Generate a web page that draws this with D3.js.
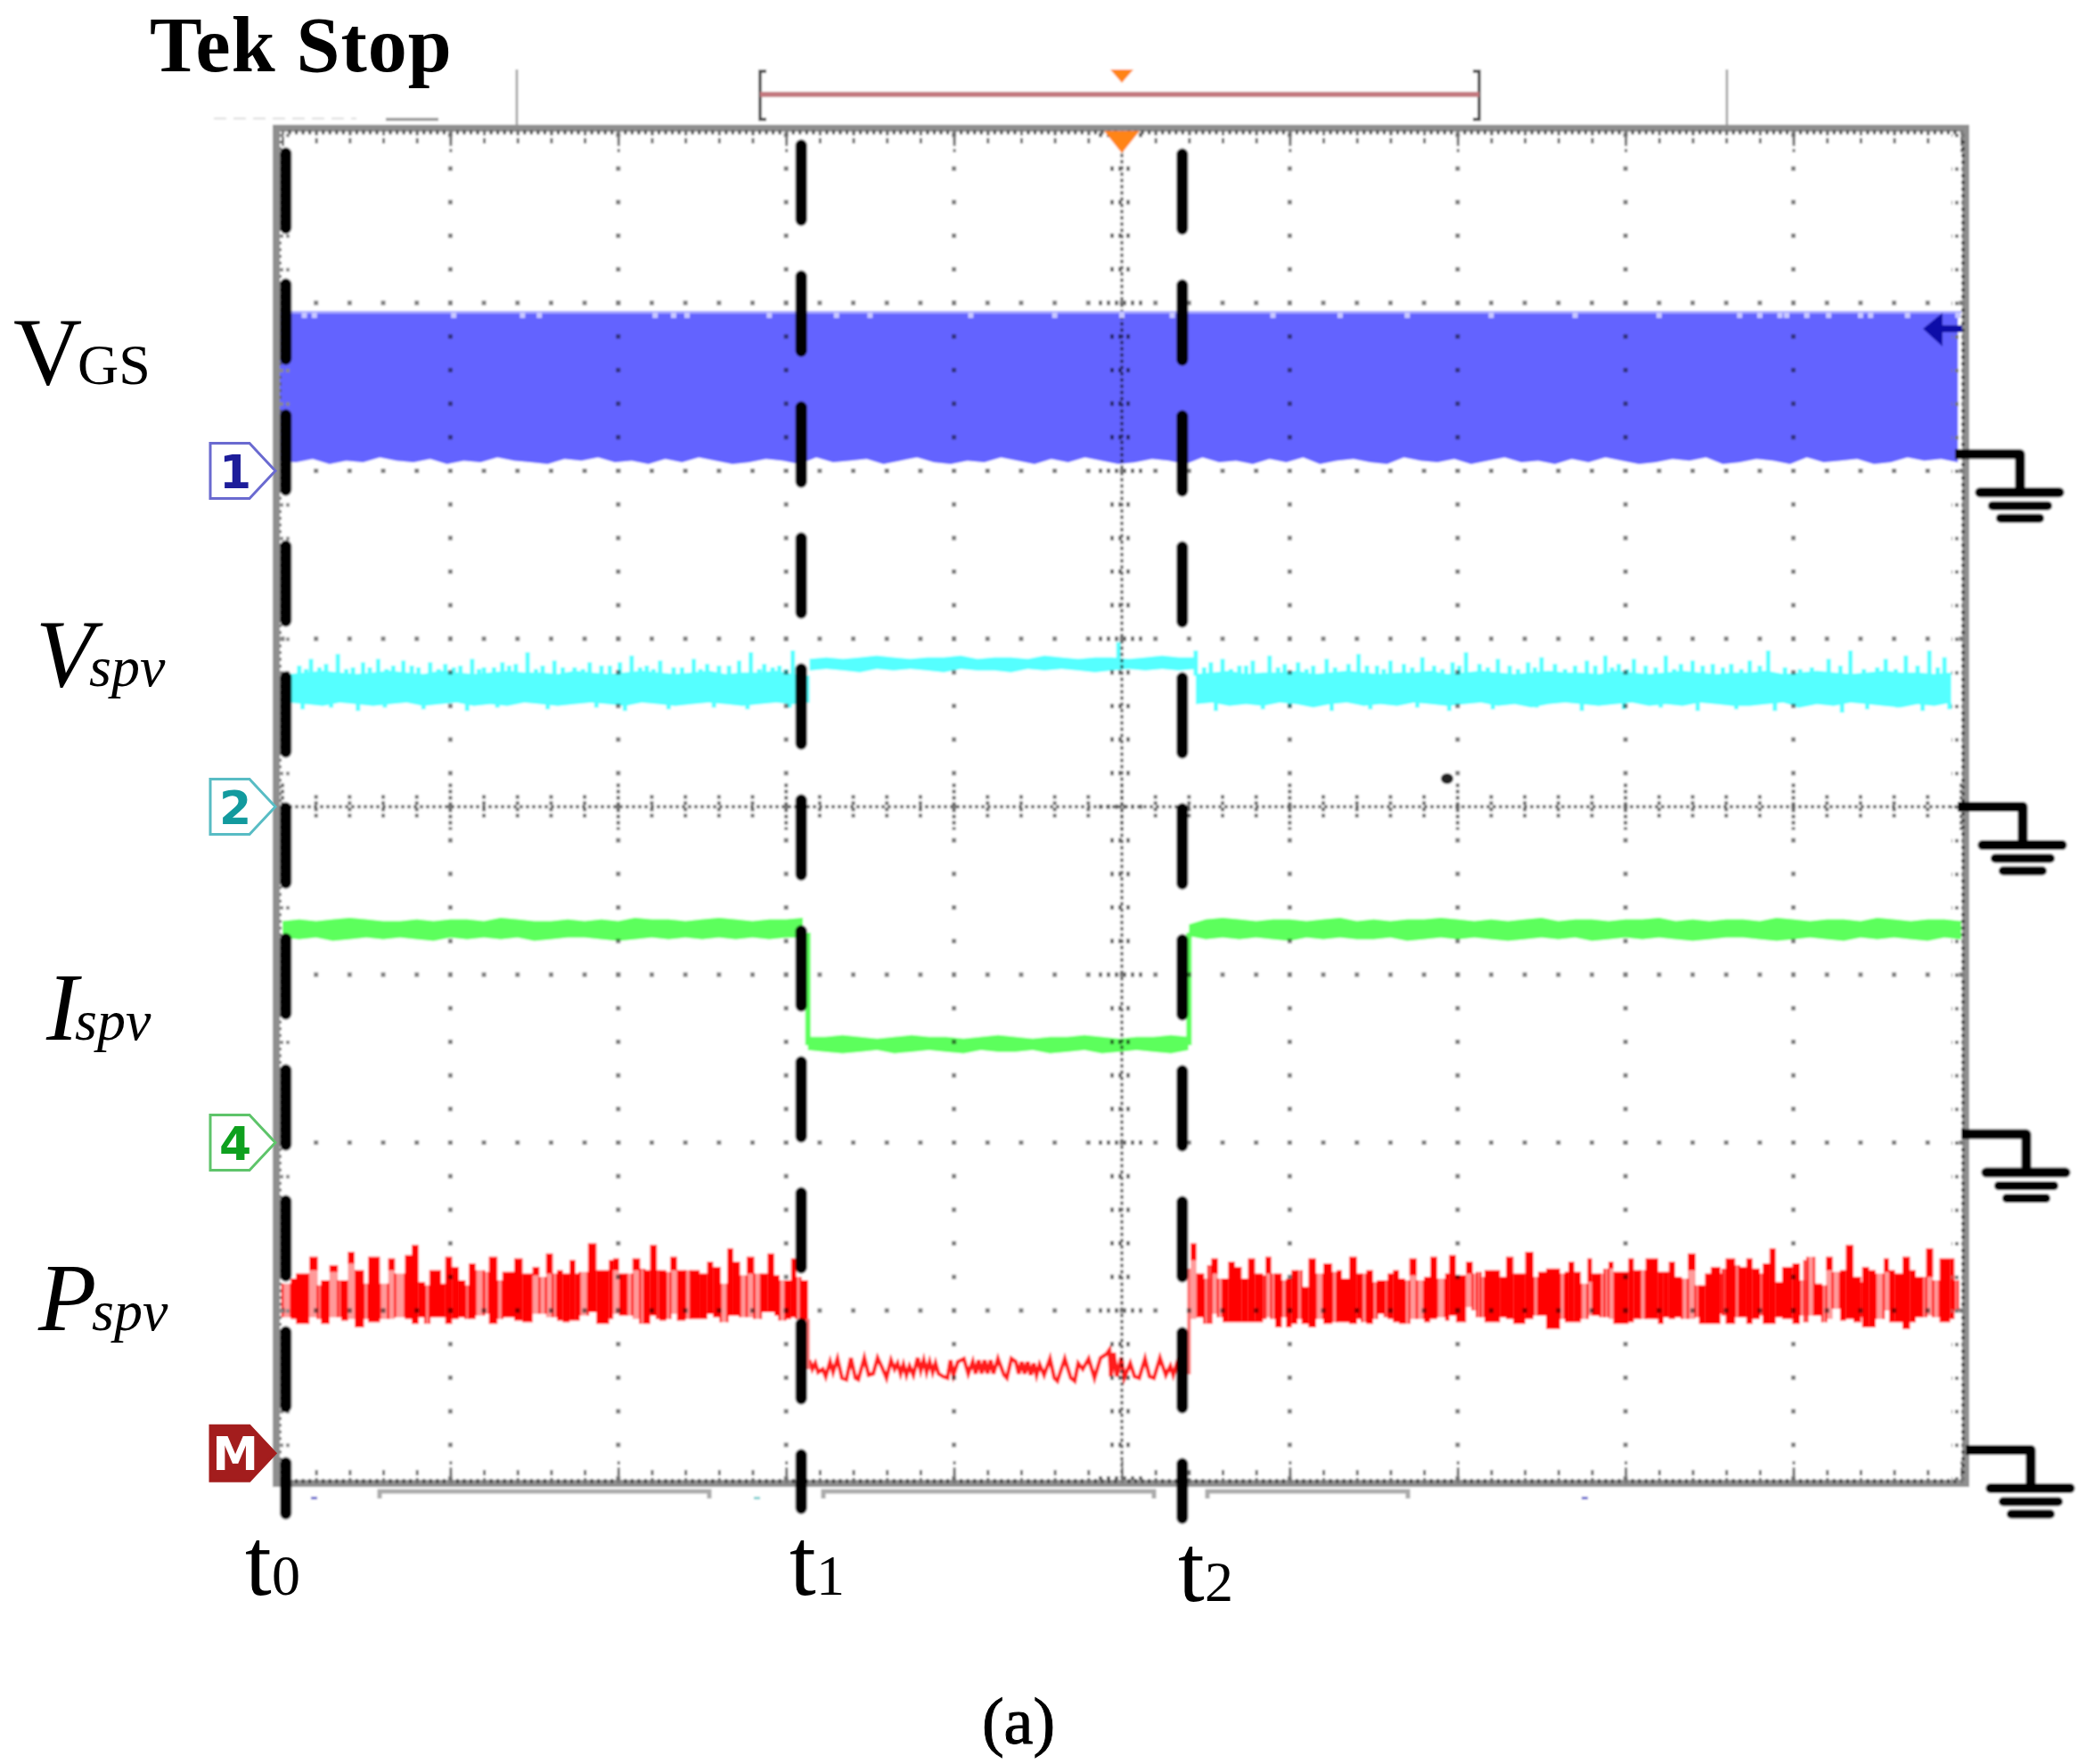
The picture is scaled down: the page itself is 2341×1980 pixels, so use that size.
<!DOCTYPE html>
<html>
<head>
<meta charset="utf-8">
<script src="https://cdnjs.cloudflare.com/ajax/libs/d3/7.8.5/d3.min.js"></script>
<style>
html, body { margin: 0; padding: 0; background: #fff; }
svg { display: block; }
text { font-family: "Liberation Serif", serif; fill: #000; }
</style>
</head>
<body>
<div id="chart"></div>
<script>
// all readings are in scope divisions: time 0..10, level 0..8 from the bottom graticule line

// VGS band
var vgsTop = 6.95;
var vgsBottom = [6.06,6.05,6.07,6.04,6.06,6.05,6.08,6.06,6.05,6.07,6.04,6.06,6.05,6.08,6.06,6.05,6.04,6.07,6.06,6.08,
    6.05,6.06,6.04,6.07,6.05,6.08,6.06,6.04,6.05,6.07,6.06,6.04,6.08,6.05,6.06,6.07,6.04,6.06,6.08,6.05,
    6.04,6.06,6.05,6.08,6.06,6.04,6.07,6.05,6.08,6.06,6.04,6.05,6.07,6.06,6.04,6.08,6.05,6.06,6.04,6.07,
    6.05,6.08,6.04,6.06,6.07,6.05,6.04,6.08,6.06,6.05,6.07,6.04,6.06,6.08,6.05,6.06,6.04,6.07,6.05,6.08,
    6.06,6.04,6.05,6.07,6.06,6.08,6.04,6.05,6.07,6.06,6.04,6.08,6.05,6.06,6.07,6.04,6.05,6.08,6.06,6.07,6.05];
var vgsNotches = [0.13,0.19,1.02,1.43,1.53,2.22,2.33,2.41,2.9,3.3,3.5,4.1,4.6,5.0,5.3,5.9,6.3,6.7,7.2,7.7,8.2,8.68,8.80,8.92,8.96,9.08,9.21,9.40,9.46,9.68,9.98];

// Vspv
var vTopLeft = [4.79,4.80,4.81,4.80,4.79,4.80,4.81,4.80,4.79,4.81,4.80,4.79,4.80,4.81,4.80,4.80,4.79,4.81,4.80,4.79,4.80,4.81,4.80,4.79,4.80,4.81,4.79,4.80,4.80,4.81,4.79,4.78];
var vBotLeft = [4.62,4.61,4.60,4.62,4.61,4.60,4.61,4.62,4.60,4.61,4.62,4.60,4.61,4.60,4.62,4.61,4.60,4.61,4.62,4.61,4.60,4.62,4.61,4.60,4.61,4.62,4.61,4.60,4.61,4.62,4.61,4.62];
var vTopMid = [4.88,4.89,4.88,4.89,4.90,4.89,4.88,4.89,4.89,4.90,4.88,4.89,4.89,4.88,4.90,4.89,4.88,4.89,4.89,4.88,4.89,4.90,4.89,4.89];
var vBotMid = [4.81,4.82,4.81,4.80,4.82,4.81,4.82,4.81,4.80,4.82,4.81,4.81,4.80,4.82,4.81,4.82,4.81,4.80,4.81,4.82,4.81,4.82,4.81,4.82];
var vTopRight = [4.79,4.80,4.81,4.79,4.80,4.80,4.81,4.79,4.80,4.81,4.80,4.79,4.80,4.80,4.81,4.79,4.80,4.81,4.80,4.79,4.80,4.81,4.80,4.80,4.79,4.81,4.80,4.79,4.80,4.81,4.80,4.79,4.80,4.80,4.81,4.79,4.80,4.81,4.80,4.79,4.80,4.81,4.80,4.80,4.79,4.80];
var vBotRight = [4.61,4.62,4.60,4.61,4.60,4.62,4.61,4.59,4.61,4.62,4.60,4.61,4.60,4.62,4.61,4.60,4.61,4.62,4.60,4.61,4.59,4.61,4.62,4.61,4.60,4.61,4.62,4.60,4.61,4.60,4.62,4.61,4.60,4.60,4.61,4.62,4.59,4.61,4.60,4.62,4.61,4.60,4.59,4.61,4.60,4.62];
var vSpikeT = [0.10,0.17,0.26,0.33,0.42,0.48,0.57,0.66,0.72,0.81,0.88,0.97,1.06,1.13,1.20,1.31,1.39,1.46,1.55,1.62,1.74,1.83,1.90,2.01,2.08,2.17,2.25,2.33,2.45,2.53,2.60,2.72,2.79,2.87,2.96,3.04,
    4.98,5.44,5.53,5.60,5.70,5.78,5.88,5.97,6.05,6.14,6.22,6.35,6.41,6.52,6.60,6.68,6.79,6.86,6.97,7.05,7.13,7.24,7.31,7.42,7.50,7.58,7.70,7.77,7.88,7.96,8.05,8.12,8.24,8.33,8.40,8.52,8.63,8.74,8.85,9.21,9.34,9.55,9.67,9.81,9.90,
    0.14,0.22,0.38,0.52,0.62,0.77,0.93,1.02,1.17,1.26,1.35,1.51,1.67,1.79,1.95,2.13,2.21,2.38,2.49,2.66,2.84,2.92,3.00,5.49,5.65,5.74,5.93,6.10,6.27,6.46,6.56,6.73,6.91,7.01,7.18,7.36,7.46,7.64,7.82,7.92,8.01,8.18,8.29,8.46,8.58,8.69,8.80,8.95,9.04,9.11,9.28,9.42,9.50,9.61,9.74,9.86];
var vSpikeV = [4.84,4.88,4.85,4.91,4.83,4.86,4.88,4.84,4.87,4.83,4.86,4.85,4.84,4.88,4.83,4.86,4.85,4.92,4.84,4.87,4.83,4.86,4.84,4.86,4.90,4.84,4.87,4.83,4.88,4.85,4.84,4.87,4.92,4.85,4.84,4.93,
    4.98,4.93,4.86,4.88,4.84,4.87,4.90,4.85,4.86,4.84,4.88,4.85,4.91,4.84,4.87,4.85,4.89,4.84,4.86,4.92,4.85,4.88,4.84,4.86,4.89,4.85,4.84,4.87,4.90,4.85,4.88,4.84,4.90,4.85,4.87,4.85,4.85,4.87,4.93,4.88,4.93,4.88,4.90,4.93,4.89,
    4.82,4.83,4.82,4.83,4.82,4.84,4.82,4.83,4.82,4.83,4.84,4.82,4.83,4.82,4.84,4.83,4.82,4.83,4.82,4.84,4.82,4.83,4.82,4.83,4.82,4.84,4.83,4.82,4.83,4.84,4.82,4.83,4.82,4.84,4.83,4.82,4.83,4.82,4.84,4.83,4.82,4.83,4.82,4.84,4.83,4.82,4.84,4.83,4.82,4.83,4.84,4.82,4.83,4.82,4.84,4.83];
var vDipT = [0.12,0.29,0.45,0.61,0.84,1.10,1.28,1.58,1.87,2.04,2.30,2.57,2.77,3.02,5.56,5.84,6.00,6.25,6.48,6.76,6.95,7.21,7.47,7.74,7.99,8.21,8.43,8.66,8.89,9.03,9.29,9.44,9.62,9.77,9.93];
var vDipV = [4.58,4.59,4.57,4.59,4.58,4.57,4.59,4.58,4.59,4.57,4.58,4.59,4.58,4.59,4.57,4.58,4.59,4.57,4.58,4.59,4.57,4.58,4.59,4.57,4.58,4.59,4.57,4.58,4.57,4.59,4.56,4.58,4.59,4.57,4.58];

// Ispv
var iTopLeft = [3.32,3.33,3.32,3.33,3.34,3.33,3.32,3.32,3.33,3.32,3.33,3.33,3.32,3.34,3.33,3.32,3.32,3.33,3.32,3.33,3.32,3.34,3.33,3.33,3.32,3.33,3.34,3.33,3.32,3.33,3.33,3.34];
var iBotLeft = [3.22,3.21,3.22,3.20,3.21,3.22,3.21,3.22,3.21,3.20,3.22,3.21,3.22,3.21,3.22,3.20,3.21,3.22,3.22,3.21,3.20,3.21,3.22,3.21,3.22,3.21,3.22,3.21,3.22,3.21,3.22,3.22];
var iTopMid = [2.63,2.63,2.64,2.63,2.62,2.63,2.64,2.63,2.63,2.62,2.63,2.64,2.63,2.62,2.63,2.63,2.64,2.63,2.62,2.63,2.63,2.64,2.63];
var iBotMid = [2.55,2.54,2.53,2.54,2.55,2.53,2.54,2.55,2.54,2.53,2.55,2.54,2.54,2.55,2.53,2.54,2.55,2.53,2.54,2.55,2.54,2.53,2.55];
var iTopRight = [3.30,3.33,3.34,3.33,3.32,3.33,3.33,3.32,3.33,3.34,3.32,3.33,3.32,3.33,3.33,3.34,3.33,3.32,3.33,3.32,3.33,3.34,3.32,3.33,3.33,3.32,3.33,3.33,3.34,3.32,3.33,3.32,3.33,3.33,3.32,3.34,3.33,3.32,3.33,3.33,3.32,3.34,3.33,3.32,3.33,3.33,3.32];
var iBotRight = [3.23,3.21,3.22,3.21,3.22,3.21,3.20,3.22,3.21,3.22,3.21,3.21,3.22,3.20,3.21,3.22,3.21,3.22,3.21,3.20,3.21,3.22,3.21,3.22,3.20,3.21,3.22,3.21,3.22,3.21,3.20,3.21,3.22,3.22,3.21,3.20,3.21,3.22,3.21,3.20,3.22,3.21,3.22,3.21,3.20,3.22,3.21];
var iEdgeT = [3.13, 5.40];

// Pspv: strips as start time, top, bottom, lower end of the deep red part (equal to top when the strip is only pale)
var pLeftT = [0.00,0.05,0.08,0.16,0.21,0.23,0.28,0.33,0.35,0.39,0.43,0.485,0.51,0.58,0.63,0.67,0.73,0.77,0.81,0.85,0.875,0.945,0.97,1.01,1.05,1.09,1.11,1.15,1.20,1.23,1.28,1.31,1.38,1.43,1.49,1.53,
    1.57,1.61,1.635,1.67,1.71,1.745,1.77,1.82,1.87,1.945,1.97,2.005,2.05,2.085,2.13,2.155,2.19,2.23,2.245,2.285,2.31,2.35,2.40,2.43,2.485,2.53,2.565,2.61,2.65,2.685,2.725,2.765,2.81,2.85,2.89,2.93,2.96,2.995,3.03,3.06,3.085];
var pLeftTop = [1.16,1.19,1.22,1.32,1.15,1.18,1.27,1.18,1.18,1.35,1.24,1.16,1.32,1.16,1.31,1.22,1.33,1.39,1.17,1.15,1.24,1.16,1.32,1.26,1.18,1.15,1.28,1.24,1.23,1.32,1.18,1.23,1.31,1.22,1.26,1.20,
    1.34,1.22,1.24,1.22,1.30,1.22,1.23,1.40,1.24,1.30,1.31,1.22,1.22,1.31,1.25,1.24,1.39,1.24,1.24,1.23,1.32,1.24,1.24,1.24,1.22,1.29,1.26,1.16,1.37,1.29,1.21,1.32,1.22,1.22,1.34,1.21,1.18,1.18,1.31,1.20,1.18];
var pLeftBot = [.96,.95,.92,.96,.95,.92,.96,.96,.94,.95,.90,.95,.93,.95,.95,.96,.95,.92,.96,.92,.96,.96,.92,.95,.96,.95,.95,.97,.98,.92,.95,.96,.94,.93,.98,.98,
    .96,.96,.94,.93,.94,.94,.97,.99,.92,.95,.98,.97,.97,.95,.92,.92,.97,.95,.94,.95,.98,.94,.95,.95,.95,.98,.96,.93,.97,.97,.96,.96,.95,.99,.99,.97,.94,.95,.96,.95,.94];
var pLeftCap = [1.16,.95,.92,1.24,1.15,.92,1.23,1.18,.94,1.28,.90,1.16,.93,1.16,1.24,1.22,.95,.92,.96,1.15,.96,.96,.92,.95,.96,1.15,.95,1.24,1.23,.92,1.18,.96,.94,.93,1.21,1.20,
    1.22,1.22,.94,.93,.94,.94,1.23,.99,.92,.95,1.24,.97,1.22,1.24,1.25,.92,.97,1.24,.94,1.23,1.24,.94,1.24,.95,.95,.98,.96,1.16,.97,.97,1.21,1.22,1.22,.99,.99,.97,1.18,.95,.96,1.20,.94];
var pLeftEnd = 3.13;
var pRightRows = [[5.41,1.40,.95,1.30],[5.444,1.22,.96,.96],[5.49,1.19,.92,1.19],[5.515,1.27,.92,1.27],[5.533,1.31,.98,1.22],[5.572,1.19,.96,1.19],[5.60,1.19,.93,.93],[5.634,1.29,.93,.93],[5.674,1.26,.93,.93],[5.713,1.19,.93,.93],
    [5.752,1.31,.93,.93],[5.793,1.22,.93,.93],[5.84,1.21,.95,1.21],[5.855,1.32,.96,1.22],[5.89,1.22,.95,1.22],[5.913,1.22,.90,.90],[5.952,1.18,.96,1.18],[5.979,1.19,.90,.90],[6.011,1.24,.92,.92],[6.046,1.24,.95,1.24],
    [6.071,1.14,.92,.92],[6.112,1.31,.90,.90],[6.156,1.22,.95,1.22],[6.20,1.28,.92,.92],[6.253,1.23,.93,1.23],[6.28,1.24,.93,.93],[6.311,1.19,.93,.93],[6.354,1.32,.92,.92],[6.40,1.22,.95,.95],[6.43,1.22,.93,1.22],
    [6.457,1.24,.92,.92],[6.496,1.17,.95,1.17],[6.519,1.18,.98,.98],[6.566,1.18,.96,1.18],[6.584,1.22,.95,.95],[6.616,1.24,.93,.93],[6.651,1.19,.92,.92],[6.687,1.18,.92,1.18],[6.713,1.31,.95,1.21],[6.757,1.18,.95,1.18],
    [6.80,1.20,.93,.93],[6.837,1.32,.95,.95],[6.878,1.19,.96,1.19],[6.926,1.22,.94,.94],[6.95,1.33,.97,.97],[6.99,1.21,.93,.93],[7.05,1.29,1.02,1.22],[7.09,1.22,1.00,1.22],[7.114,1.23,.96,1.23],[7.137,1.20,.96,1.20],
    [7.16,1.24,.93,.93],[7.252,1.20,.96,.96],[7.288,1.32,.95,.95],[7.332,1.22,.92,.92],[7.403,1.35,.95,.95],[7.452,1.20,.97,1.20],[7.479,1.23,.97,.97],[7.527,1.25,.89,.89],[7.61,1.22,.95,1.22],[7.638,1.23,.93,.93],
    [7.66,1.29,.93,.93],[7.695,1.23,.93,.93],[7.734,1.16,.95,1.16],[7.774,1.31,.97,1.17],[7.80,1.22,.97,.97],[7.85,1.22,.96,1.22],[7.875,1.25,.96,1.25],[7.898,1.29,.95,1.25],[7.928,1.23,.92,.92],[8.017,1.31,.93,.93],
    [8.049,1.24,.95,.95],[8.088,1.24,.95,1.24],[8.12,1.31,.95,.95],[8.194,1.23,.92,.92],[8.226,1.23,.96,.96],[8.258,1.29,.95,.95],[8.296,1.20,.96,.96],[8.335,1.19,.95,1.19],[8.371,1.34,.95,1.24],[8.417,1.15,.96,1.15],
    [8.438,1.15,.92,.92],[8.474,1.22,.92,.92],[8.508,1.26,.92,.92],[8.565,1.22,.98,1.22],[8.579,1.25,.97,1.25],[8.597,1.31,.92,.92],[8.653,1.27,.96,1.27],[8.676,1.26,.96,.96],[8.72,1.31,.92,.92],[8.756,1.25,.95,.95],
    [8.80,1.22,.97,1.22],[8.818,1.28,.92,.92],[8.858,1.37,.92,.92],[8.894,1.17,.96,.96],[8.933,1.26,.95,.95],[8.995,1.28,.92,.92],[9.039,1.18,.97,1.18],[9.066,1.30,.93,1.30],[9.083,1.32,.97,1.32],[9.124,1.16,.97,.97],
    [9.172,1.15,.93,1.15],[9.195,1.32,.95,1.24],[9.234,1.23,1.01,1.23],[9.278,1.24,.94,.94],[9.313,1.39,.95,.95],[9.358,1.20,.93,.93],[9.402,1.17,.96,1.17],[9.41,1.26,.90,.90],[9.45,1.24,.90,.90],[9.49,1.22,.95,1.22],
    [9.538,1.31,1.00,1.23],[9.57,1.24,.93,.93],[9.605,1.22,.93,.93],[9.65,1.32,.89,.89],[9.694,1.24,.93,.93],[9.729,1.20,.96,.96],[9.768,1.20,.96,1.20],[9.791,1.37,.97,1.20],[9.832,1.18,.96,1.18],[9.871,1.31,.93,.93],
    [9.933,1.31,.95,.95],[9.959,1.18,1.00,1.18]];
var pRightEnd = 9.98;

// Pspv low ripple between t1 and t2
var pLowT = [3.138,3.156,3.174,3.191,3.218,3.236,3.262,3.280,3.306,3.333,3.359,3.386,3.413,3.430,3.466,3.492,3.519,3.545,3.572,3.598,3.625,3.646,3.664,3.682,3.699,3.717,3.735,3.758,3.784,3.802,3.820,3.837,3.855,3.873,3.890,3.908,3.935,3.961,3.979,3.997,
    4.023,4.059,4.085,4.112,4.129,4.147,4.165,4.182,4.200,4.218,4.235,4.262,4.298,4.315,4.342,4.368,4.386,4.404,4.421,4.439,4.457,4.475,4.492,4.510,4.537,4.572,4.598,4.616,4.660,4.696,4.719,4.740,4.767,4.802,4.837,4.873,4.908,4.926,4.935,4.952,4.970,4.997,
    5.014,5.050,5.076,5.103,5.138,5.165,5.191,5.227,5.262,5.289,5.306,5.328,5.350];
var pLowV = [.704,.651,.686,.633,.651,.607,.695,.633,.713,.598,.589,.718,.598,.589,.718,.616,.624,.718,.660,.598,.704,.651,.686,.624,.678,.616,.669,.616,.718,.642,.704,.633,.695,.633,.686,.624,.607,.598,.704,.616,
    .695,.713,.624,.695,.624,.704,.624,.704,.624,.704,.624,.713,.616,.598,.713,.695,.624,.695,.624,.695,.616,.686,.616,.678,.616,.713,.598,.580,.713,.598,.580,.686,.651,.713,.598,.718,.740,.766,.607,.749,.607,.722,
    .598,.686,.607,.598,.713,.607,.598,.718,.616,.669,.616,.686,.616];

var channelLevels = [6.0, 4.0, 2.0, 0.15];
var channelNames = ['1', '2', '4', 'M'];
var groundLevels = [6.1, 4.0, 2.05, 0.17];
var cursorTimes = [0.02, 3.09, 5.36];

var width = 2341, height = 1980;
var x = d3.scaleLinear().domain([0, 10]).range([317, 2201]);
var y = d3.scaleLinear().domain([0, 8]).range([1659.5, 151.5]);

var svg = d3.select('#chart').append('svg').attr('width', width).attr('height', height);
var defs = svg.append('defs');
defs.append('filter').attr('id', 'soft').attr('x', 0).attr('y', 0).attr('width', 1).attr('height', 1)
    .append('feGaussianBlur').attr('stdDeviation', 1.3);

var root = svg.append('g').attr('filter', 'url(#soft)');
root.append('rect').attr('width', width).attr('height', height).attr('fill', '#fff');

// graticule dots
var grid = root.append('g').attr('fill', '#7c7c7c');
var fine = d3.range(0, 40.5).map(function(d) { return d / 5 });
var fineT = d3.range(0, 50.5).map(function(d) { return d / 5 });
[1, 2, 3, 4, 6, 7, 8, 9].forEach(function(t) {
    grid.selectAll(null).data(fine).enter().append('rect')
        .attr('x', x(t) - 2.5).attr('y', function(d) { return y(d) - 2.5 }).attr('width', 5).attr('height', 5);
});
[1, 2, 3, 5, 6, 7].forEach(function(v) {
    grid.selectAll(null).data(fineT).enter().append('rect')
        .attr('x', function(d) { return x(d) - 2.5 }).attr('y', y(v) - 2.5).attr('width', 5).attr('height', 5);
});

// centre cross
var cross = root.append('g').attr('stroke', '#666').attr('fill', 'none');
cross.append('line').attr('x1', x(5)).attr('x2', x(5)).attr('y1', y(8)).attr('y2', y(0)).attr('stroke-width', 3.5).attr('stroke-dasharray', '4 3');
cross.append('line').attr('x1', x(0)).attr('x2', x(10)).attr('y1', y(4)).attr('y2', y(4)).attr('stroke-width', 3.5).attr('stroke-dasharray', '4 3');
cross.selectAll(null).data(fine).enter().append('line')
    .attr('x1', function(d) { return x(5) - (d % 1 === 0 ? 26 : 13) })
    .attr('x2', function(d) { return x(5) + (d % 1 === 0 ? 26 : 13) })
    .attr('y1', function(d) { return y(d) }).attr('y2', function(d) { return y(d) })
    .attr('stroke-width', 5).attr('stroke-dasharray', '4 5');
cross.selectAll(null).data(fineT).enter().append('line')
    .attr('x1', function(d) { return x(d) }).attr('x2', function(d) { return x(d) })
    .attr('y1', function(d) { return y(4) - (d % 1 === 0 ? 26 : 13) })
    .attr('y2', function(d) { return y(4) + (d % 1 === 0 ? 26 : 13) })
    .attr('stroke-width', 4).attr('stroke-dasharray', '4 3');

// traces, multiplied so the graticule shows through
var traces = root.append('g').style('mix-blend-mode', 'multiply');

function band(t0, dt, tops, bots) {
    return tops.map(function(d, i) { return { t: t0 + i * dt, top: d, bot: bots[i] } });
}
var bandArea = d3.area().x(function(d) { return x(d.t) }).y0(function(d) { return y(d.bot) }).y1(function(d) { return y(d.top) });

// VGS
var vgs = vgsBottom.map(function(d, i) { return { t: -0.02 + i * 0.1, top: vgsTop, bot: d } });
traces.append('path').attr('d', bandArea(vgs)).attr('fill', '#6464ff');

// Vspv
[band(0.04, 0.1, vTopLeft, vBotLeft), band(3.14, 0.1, vTopMid, vBotMid), band(5.44, 0.1, vTopRight, vBotRight)].forEach(function(b) {
    traces.append('path').attr('d', bandArea(b)).attr('fill', '#55ffff');
});
traces.selectAll(null).data(d3.zip(vSpikeT, vSpikeV)).enter().append('line')
    .attr('x1', function(d) { return x(d[0]) }).attr('x2', function(d) { return x(d[0]) })
    .attr('y1', function(d) { return d[0] > 3.14 && d[0] < 5.44 ? y(4.87) : y(4.78) }).attr('y2', function(d) { return y(d[1]) })
    .attr('stroke', '#55ffff').attr('stroke-width', 5);
traces.selectAll(null).data(d3.zip(vDipT, vDipV)).enter().append('line')
    .attr('x1', function(d) { return x(d[0]) }).attr('x2', function(d) { return x(d[0]) })
    .attr('y1', y(4.62)).attr('y2', function(d) { return y(d[1]) })
    .attr('stroke', '#55ffff').attr('stroke-width', 5);

// Ispv
[band(0, 0.1, iTopLeft, iBotLeft), band(3.13, 0.103, iTopMid, iBotMid), band(5.40, 0.1, iTopRight, iBotRight)].forEach(function(b) {
    traces.append('path').attr('d', bandArea(b)).attr('fill', '#5cff5c');
});
traces.selectAll(null).data(iEdgeT).enter().append('line')
    .attr('x1', function(d) { return x(d) }).attr('x2', function(d) { return x(d) })
    .attr('y1', y(3.25)).attr('y2', y(2.58))
    .attr('stroke', '#5cff5c').attr('stroke-width', 6);

// Pspv strips
function drawStrips(rows, end) {
    var strips = rows.map(function(r, i) {
        return { t0: r[0], t1: i < rows.length - 1 ? rows[i + 1][0] : end, top: r[1], bot: r[2], cap: r[3] };
    });
    traces.selectAll(null).data(strips).enter().append('rect')
        .attr('x', function(d) { return x(d.t0) }).attr('width', function(d) { return x(d.t1) - x(d.t0) })
        .attr('y', function(d) { return y(d.top) }).attr('height', function(d) { return y(d.bot) - y(d.top) })
        .attr('fill', '#ff9a9a');
    traces.selectAll(null).data(strips.filter(function(d) { return d.cap < d.top })).enter().append('rect')
        .attr('x', function(d) { return x(d.t0) }).attr('width', function(d) { return x(d.t1) - x(d.t0) })
        .attr('y', function(d) { return y(d.top) }).attr('height', function(d) { return y(d.cap) - y(d.top) })
        .attr('fill', '#ff0000');
    // thin red edges keep the pale strips reading as separate swings
    traces.selectAll(null).data(strips.filter(function(d) { return d.cap >= d.top })).enter().append('path')
        .attr('d', function(d) {
            return 'M' + x(d.t0) + ',' + y(d.top) + 'V' + y(d.bot) + 'M' + x(d.t1) + ',' + y(d.top) + 'V' + y(d.bot);
        })
        .attr('stroke', '#ff1010').attr('stroke-width', 2.5).attr('fill', 'none');
}
drawStrips(d3.zip(pLeftT, pLeftTop, pLeftBot, pLeftCap), pLeftEnd);
drawStrips(pRightRows, pRightEnd);

var lowLine = d3.line().x(function(d) { return x(d[0]) }).y(function(d) { return y(d[1]) });
traces.append('path').attr('d', lowLine(d3.zip(pLowT, pLowV))).attr('fill', 'none')
    .attr('stroke', '#ff1c1c').attr('stroke-width', 4.5);
traces.append('line').attr('x1', x(3.13)).attr('x2', x(3.13)).attr('y1', y(0.95)).attr('y2', y(0.65))
    .attr('stroke', '#ff7070').attr('stroke-width', 4);
traces.append('line').attr('x1', x(5.40)).attr('x2', x(5.40)).attr('y1', y(1.25)).attr('y2', y(0.62))
    .attr('stroke', '#ff7070').attr('stroke-width', 4);

// VGS upper edge with its small nicks
root.append('line').attr('x1', x(-0.02)).attr('x2', x(10)).attr('y1', y(vgsTop) + 1).attr('y2', y(vgsTop) + 1)
    .attr('stroke', '#a4a4ff').attr('stroke-width', 3);
root.selectAll(null).data(vgsNotches).enter().append('rect')
    .attr('x', function(d) { return x(d) - 3 }).attr('width', 6)
    .attr('y', y(vgsTop) + 1).attr('height', y(6.91) - y(vgsTop) - 1).attr('fill', '#c8c8ff');

// frame and its tick marks
var frame = root.append('g');
frame.append('rect').attr('x', 310).attr('y', 144).attr('width', 1896).attr('height', 1521)
    .attr('fill', 'none').attr('stroke', '#8f8f8f').attr('stroke-width', 8);

function ticks(axis, tx, ty, values, size, color, w, dash) {
    var g = frame.append('g').attr('transform', 'translate(' + tx + ',' + ty + ')')
        .call(axis.tickValues(values).tickSize(size).tickFormat(''));
    g.select('.domain').remove();
    g.selectAll('line').attr('stroke', color).attr('stroke-width', w).attr('stroke-dasharray', dash || null);
}
var comb = d3.range(0, 250.5).map(function(d) { return d / 25 });
var combY = d3.range(0, 200.5).map(function(d) { return d / 25 });
var major = d3.range(0, 10.5);
ticks(d3.axisBottom(x), 0, 146, comb, 5, '#444', 3);
ticks(d3.axisBottom(x), 0, 146, fineT, 16, '#666', 3, '6 3');
ticks(d3.axisBottom(x), 0, 146, major, 28, '#777', 3, '4 3');
ticks(d3.axisTop(x), 0, 1665, comb, 5, '#444', 3);
ticks(d3.axisTop(x), 0, 1665, fineT, 16, '#666', 3, '6 3');
ticks(d3.axisTop(x), 0, 1665, major, 28, '#777', 3, '4 3');
ticks(d3.axisRight(y), 314, 0, combY, 2, '#555', 3);
ticks(d3.axisRight(y), 314, 0, fine, 11, '#888', 4, '4 3');
ticks(d3.axisLeft(y), 2205, 0, combY, 4, '#333', 3);
ticks(d3.axisLeft(y), 2205, 0, fine, 15, '#777', 4, '4 3');

// record bar above the screen
var topBar = root.append('g');
[580, 1938].forEach(function(d) {
    topBar.append('line').attr('x1', d).attr('x2', d).attr('y1', 78).attr('y2', 141).attr('stroke', '#9a9a9a').attr('stroke-width', 2.5);
});
topBar.append('path').attr('d', 'M860,80H853V134H860M1653,80H1660V134H1653').attr('fill', 'none').attr('stroke', '#444').attr('stroke-width', 3.5);
topBar.append('line').attr('x1', 853).attr('x2', 1660).attr('y1', 106).attr('y2', 106).attr('stroke', '#c4797f').attr('stroke-width', 6);
topBar.append('path').attr('d', 'M1246,78H1272L1259,93Z').attr('fill', '#ff8412');
topBar.append('path').attr('d', 'M1239,147H1279L1259,172Z').attr('fill', '#ff8412');
topBar.append('line').attr('x1', 240).attr('x2', 400).attr('y1', 133).attr('y2', 133).attr('stroke', '#ddd').attr('stroke-width', 2).attr('stroke-dasharray', '14 8');
topBar.append('line').attr('x1', 433).attr('x2', 492).attr('y1', 134).attr('y2', 134).attr('stroke', '#888').attr('stroke-width', 3);

// readout bars under the screen
var bottomBar = root.append('g').attr('fill', 'none').attr('stroke', '#aaa').attr('stroke-width', 5);
bottomBar.append('path').attr('d', 'M426,1682V1674H796V1682');
bottomBar.append('path').attr('d', 'M924,1682V1674H1295V1682');
bottomBar.append('path').attr('d', 'M1355,1682V1674H1580V1682');
root.append('rect').attr('x', 349).attr('y', 1680).attr('width', 7).attr('height', 3).attr('fill', '#5a5acc');
root.append('rect').attr('x', 846).attr('y', 1680).attr('width', 7).attr('height', 3).attr('fill', '#7fd0d0');
root.append('rect').attr('x', 1775).attr('y', 1680).attr('width', 7).attr('height', 3).attr('fill', '#5a5acc');

// blue level arrow and the speck on the screen
root.append('path').attr('d', 'M2158,369L2180,351V365H2202V373H2180V389Z').attr('fill', '#0a0aa8');
root.append('ellipse').attr('cx', 1624).attr('cy', 874).attr('rx', 7).attr('ry', 6).attr('fill', '#222');

// black cursor dashes
var cursors = root.append('g').attr('stroke', '#000').attr('fill', 'none').attr('stroke-linecap', 'round').attr('stroke-width', 13);
var cursorY = [[172, 1699], [163, 1693], [173, 1704]];
cursors.selectAll('line').data(cursorTimes).enter().append('line')
    .attr('x1', function(d) { return x(d) }).attr('x2', function(d) { return x(d) })
    .attr('y1', function(d, i) { return cursorY[i][0] }).attr('y2', function(d, i) { return cursorY[i][1] })
    .attr('stroke-dasharray', '84 63');

// ground symbols
var groundX = [2267, 2270, 2274, 2279];
var grounds = root.append('g').attr('stroke', '#000').attr('fill', 'none').attr('stroke-linecap', 'round');
groundLevels.forEach(function(v, i) {
    var gy = y(v), gx = groundX[i];
    grounds.append('path').attr('d', 'M' + (gx - 73) + ',' + gy + 'H' + gx + 'V' + (gy + 43)).attr('stroke-width', 11).attr('stroke-linecap', 'butt').attr('stroke-linejoin', 'round');
    grounds.append('line').attr('x1', gx - 45).attr('x2', gx + 44).attr('y1', gy + 43).attr('y2', gy + 43).attr('stroke-width', 11);
    grounds.append('line').attr('x1', gx - 31).attr('x2', gx + 31).attr('y1', gy + 58).attr('y2', gy + 58).attr('stroke-width', 10);
    grounds.append('line').attr('x1', gx - 22).attr('x2', gx + 22).attr('y1', gy + 72).attr('y2', gy + 72).attr('stroke-width', 10);
});

// channel markers
var markerStroke = ['#6a6ad0', '#58bcc4', '#5ec46a', '#a31d1d'];
var markerText = ['#1d1d9a', '#129a9e', '#0ea01e', '#fff'];
var markers = svg.append('g');
channelLevels.forEach(function(v, i) {
    var my = y(v);
    markers.append('path').attr('d', 'M236,' + (my - 31) + 'H280L309,' + my + 'L280,' + (my + 31) + 'H236Z')
        .attr('fill', i === 3 ? '#a31d1d' : '#fff').attr('stroke', markerStroke[i]).attr('stroke-width', 3)
        .attr('stroke-dasharray', i === 3 ? null : '60 0');
    markers.append('text').attr('x', 264).attr('y', my + 19).attr('text-anchor', 'middle')
        .style('font-family', '"DejaVu Sans", sans-serif').style('font-weight', 'bold').style('font-size', '52px')
        .style('fill', markerText[i]).text(channelNames[i]);
});

// text labels
var labels = svg.append('g');
function label(px, py, size, str, style, weight) {
    return labels.append('text').attr('x', px).attr('y', py).style('font-size', size + 'px')
        .style('font-style', style || 'normal').style('font-weight', weight || 'normal').text(str);
}
label(168, 80, 88, 'Tek Stop', null, 'bold').style('letter-spacing', '1px');
label(15, 431, 107, 'V');
label(87, 431, 64, 'GS');
label(40, 770, 107, 'V', 'italic');
label(100, 770, 64, 'spv', 'italic');
label(52, 1167, 107, 'I', 'italic');
label(84, 1167, 64, 'spv', 'italic');
label(43, 1493, 107, 'P', 'italic');
label(103, 1493, 64, 'spv', 'italic');
label(275, 1790, 107, 't');
label(305, 1790, 64, '0');
label(886, 1790, 107, 't');
label(916, 1790, 64, '1');
label(1322, 1797, 107, 't');
label(1352, 1797, 64, '2');
labels.append('text').attr('x', 1143).attr('y', 1957).attr('text-anchor', 'middle').style('font-size', '74px')
    .style('stroke', '#000').style('stroke-width', 1).text('(a)');
</script>
</body>
</html>
